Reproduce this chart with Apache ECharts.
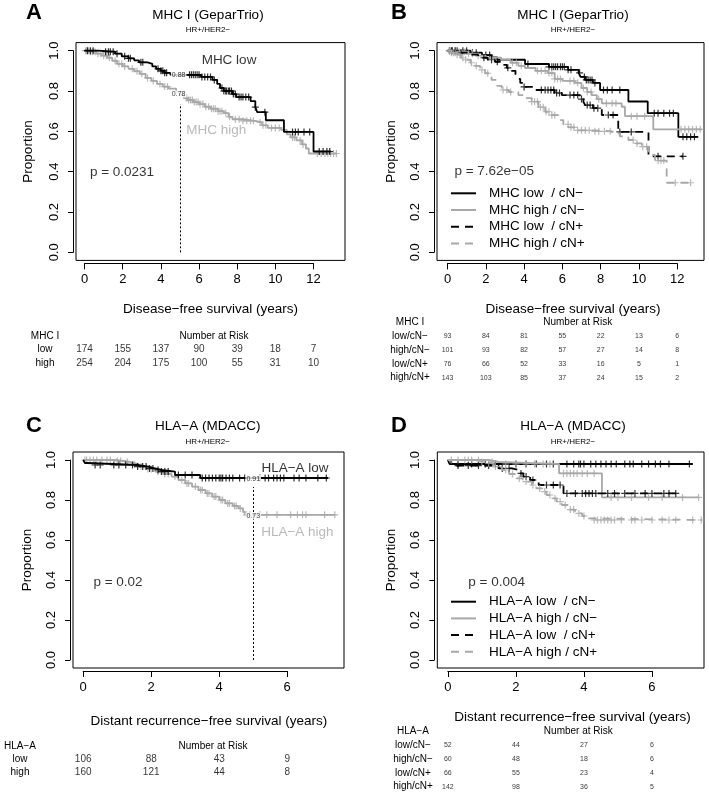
<!DOCTYPE html>
<html>
<head>
<meta charset="utf-8">
<script src="https://cdn.jsdelivr.net/npm/echarts@6/dist/echarts.min.js"></script>
<style>
  html, body { margin: 0; padding: 0; background: #fff; }
  #chart { width: 709px; height: 792px; }
</style>
</head>
<body>
<div id="chart"></div>
<script>
const BLACK = '#000'
const GREY = '#a8a8a8'
const FONT = '"Liberation Sans", Arial, Helvetica, sans-serif'
const PLUS = 'path://M5,0L5,10M0,5L10,5'
const DASH = [8, 6]

// ---------- A: MHC I (GeparTrio), all HR+/HER2- ----------
const aLowSteps = [[0,1],[0.7,0.995],[1.6,0.985],[1.95,0.972],[2.3,0.962],[2.6,0.952],[2.85,0.942],[3.3,0.935],[3.55,0.922],[3.75,0.91],[4.0,0.9],[4.2,0.89],[4.5,0.88],[6.1,0.87],[6.7,0.855],[6.95,0.835],[7.1,0.815],[7.3,0.8],[7.75,0.785],[7.95,0.77],[8.7,0.75],[8.95,0.72],[9.05,0.695],[9.5,0.655],[10.45,0.597],[12.0,0.5],[12.9,0.5]]
const aLowCensor = [0.15,0.3,0.45,1.1,1.25,1.35,1.5,1.7,2.1,2.3,2.4,2.95,3.05,3.85,4.0,4.1,4.2,4.3,5.5,5.6,5.7,5.8,5.9,6.0,6.15,6.3,6.45,6.6,6.8,7.2,7.3,7.4,7.45,7.55,7.6,7.7,7.8,7.9,8.1,8.2,8.3,8.45,8.6,8.95,9.45,10.9,11.05,11.2,11.5,11.8,12.3,12.5,12.7,12.85]
const aHighSteps = [[0,1],[0.3,0.995],[0.6,0.985],[0.9,0.975],[1.2,0.965],[1.45,0.95],[1.7,0.935],[2.0,0.922],[2.3,0.91],[2.6,0.898],[2.9,0.885],[3.2,0.865],[3.5,0.85],[3.8,0.835],[4.1,0.822],[4.4,0.812],[4.8,0.795],[5.0,0.78],[5.2,0.765],[5.4,0.755],[5.7,0.745],[6.0,0.735],[6.3,0.722],[6.6,0.712],[7.0,0.7],[7.3,0.69],[7.55,0.672],[7.75,0.66],[8.3,0.652],[8.9,0.645],[9.3,0.63],[9.6,0.617],[10.3,0.607],[10.6,0.585],[10.8,0.57],[11.1,0.555],[11.4,0.535],[11.6,0.515],[11.75,0.49],[13.2,0.49]]
const aHighCensor = [0.05,0.12,0.2,0.3,0.4,0.55,0.7,0.85,1.0,1.15,1.3,1.6,1.8,1.95,2.1,2.5,2.75,3.0,3.3,3.6,3.95,4.2,4.35,5.35,5.45,5.55,5.65,5.75,5.85,5.95,6.05,6.2,6.35,6.5,6.65,6.75,6.85,7.0,7.1,7.2,7.4,7.6,7.9,8.1,8.3,8.5,8.7,8.85,9.2,9.35,9.5,9.8,10.0,10.2,10.9,11.0,11.3,11.45,12.2,12.4,12.6,12.75,12.9,13.05,13.2]

// ---------- B: MHC I (GeparTrio) by nodal status ----------
const bLowNegSteps = [[0,1],[1.2,0.99],[1.8,0.978],[2.3,0.966],[2.6,0.955],[4.05,0.934],[5.3,0.92],[6.3,0.905],[6.85,0.89],[6.95,0.87],[7.2,0.855],[7.6,0.84],[7.97,0.805],[9.45,0.748],[10.46,0.69],[12.06,0.573],[13.1,0.573]]
const bLowNegCensor = [0.1,0.25,0.5,0.8,1.0,1.3,1.5,2.0,2.2,4.2,5.3,5.45,5.55,5.65,5.75,5.9,6.0,6.1,6.3,6.45,6.9,7.15,7.25,7.35,7.45,7.55,7.7,8.15,8.35,8.6,9.0,10.8,11.0,11.3,11.6,11.8,12.3,12.5,12.7,12.9]
const bHighNegSteps = [[0,1],[0.5,0.995],[1.0,0.985],[1.5,0.975],[2.0,0.965],[2.8,0.954],[3.3,0.94],[3.7,0.925],[4.05,0.914],[4.6,0.9],[5.25,0.889],[5.6,0.86],[6.0,0.85],[6.66,0.84],[7.0,0.815],[7.3,0.795],[7.53,0.78],[7.8,0.76],[8.06,0.739],[9.1,0.722],[9.27,0.675],[10.75,0.61],[13.28,0.61]]
const bHighNegCensor = [0.2,0.4,0.6,0.9,1.1,1.3,1.6,3.4,3.6,3.85,4.7,4.9,5.1,5.3,5.45,5.6,5.75,5.9,6.4,6.6,6.8,7.1,7.3,7.5,7.9,8.3,8.6,8.8,9.6,9.9,10.3,12.2,12.4,12.6,12.8,13.0,13.2]
const bLowPosSteps = [[0,1],[0.6,0.99],[1.1,0.98],[1.6,0.965],[2.1,0.955],[2.48,0.945],[2.9,0.93],[3.1,0.915],[3.35,0.9],[3.55,0.885],[3.65,0.86],[3.8,0.84],[3.95,0.82],[4.6,0.805],[5.6,0.79],[5.97,0.78],[6.9,0.76],[7.1,0.745],[7.2,0.73],[7.6,0.715],[8.06,0.681],[8.92,0.597],[10.5,0.476],[12.3,0.476]]
const bLowPosCensor = [0.2,0.4,0.7,1.9,2.3,2.6,3.15,4.0,4.9,5.1,5.25,5.4,5.55,5.7,5.85,6.4,6.6,6.8,7.0,7.3,7.45,7.65,7.85,8.4,8.65,9.0,9.6,11.0,12.3]
const bHighPosSteps = [[0,1],[0.2,0.99],[0.45,0.98],[0.7,0.965],[0.95,0.955],[1.2,0.94],[1.44,0.925],[1.7,0.905],[1.96,0.888],[2.3,0.855],[2.6,0.825],[2.83,0.805],[3.2,0.795],[3.7,0.78],[4.0,0.765],[4.4,0.747],[4.75,0.72],[5.1,0.697],[5.4,0.68],[5.79,0.656],[6.05,0.635],[6.31,0.62],[6.8,0.605],[7.6,0.6],[8.6,0.59],[9.0,0.575],[9.45,0.557],[9.8,0.54],[10.15,0.524],[10.5,0.5],[10.67,0.483],[10.84,0.455],[11.45,0.345],[12.76,0.345]]
const bHighPosCensor = [0.1,0.2,0.3,0.4,0.5,0.65,0.8,0.95,1.25,1.5,1.8,2.1,2.9,3.1,3.3,4.4,4.55,4.7,4.85,5.0,5.15,5.3,5.45,5.6,6.3,6.45,6.6,6.8,7.0,7.2,7.4,7.7,7.9,8.2,8.5,9.7,9.9,10.2,10.4,11.0,11.15,11.3,11.9,12.7]

// ---------- C: HLA-A (MDACC), all HR+/HER2- ----------
const cLowSteps = [[0,1],[0.05,0.985],[0.12,0.975],[1.6,0.967],[1.92,0.958],[2.1,0.95],[2.3,0.942],[2.7,0.925],[3.44,0.91],[7.2,0.91]]
const cLowCensor = [0.35,0.5,0.9,1.05,1.25,1.45,1.6,1.75,1.85,1.95,2.05,2.2,2.3,2.4,2.5,2.8,3.0,3.2,3.5,3.6,3.7,3.8,3.9,4.0,4.05,4.1,4.2,4.3,4.4,4.6,4.75,5.2,5.35,5.45,5.6,5.7,5.8,5.9,6.2,6.35,6.55,6.9,7.15]
const cHighSteps = [[0,1],[0.95,0.995],[1.2,0.99],[1.4,0.98],[1.63,0.967],[1.85,0.955],[2.12,0.942],[2.35,0.93],[2.6,0.917],[2.8,0.9],[3.0,0.883],[3.2,0.867],[3.39,0.85],[3.6,0.833],[3.79,0.817],[4.0,0.8],[4.18,0.783],[4.4,0.77],[4.57,0.758],[4.7,0.74],[4.76,0.726],[7.41,0.726]]
const cHighCensor = [0.05,0.1,0.2,0.3,0.4,0.55,0.7,0.8,1.0,1.1,1.3,1.5,1.7,1.9,2.0,2.2,2.4,2.5,2.7,2.9,3.05,3.1,3.3,3.45,3.5,3.65,3.7,3.85,3.9,4.05,4.1,4.25,4.3,4.45,4.5,4.62,4.8,4.9,5.2,5.4,5.7,6.1,6.3,6.45,6.55,7.1,7.4]

// ---------- D: HLA-A (MDACC) by nodal status ----------
const dLowNegSteps = [[0,1],[0.05,0.98],[7.2,0.98]]
const dLowNegCensor = [0.3,0.7,1.1,1.4,2.0,2.3,2.6,2.9,3.1,3.5,3.7,3.85,3.9,4.0,4.2,4.35,4.5,4.65,4.8,4.95,5.2,5.35,5.45,5.7,5.9,6.1,6.25,6.5,7.1]
const dHighNegSteps = [[0,1],[1.2,0.99],[1.5,0.98],[3.27,0.933],[4.53,0.813],[7.37,0.813]]
const dHighNegCensor = [0.6,0.9,1.3,1.7,2.0,2.3,2.55,2.8,3.0,3.4,3.5,3.6,3.7,3.8,3.95,4.1,4.3,4.8,5.0,5.4,5.9,6.3,6.9,7.37]
const dLowPosSteps = [[0,1],[0.1,0.972],[1.49,0.958],[1.88,0.95],[2.08,0.933],[2.22,0.917],[2.42,0.9],[2.67,0.875],[3.4,0.833],[6.78,0.833]]
const dLowPosCensor = [0.3,0.6,0.9,1.2,1.6,1.8,2.15,2.3,2.5,2.9,3.1,3.3,3.5,3.75,3.95,4.05,4.15,4.25,4.35,4.7,4.9,5.2,5.5,5.8,6.0,6.35,6.5,6.7]
const dHighPosSteps = [[0,1],[0.8,0.99],[1.1,0.983],[1.35,0.967],[1.59,0.95],[1.8,0.93],[1.98,0.908],[2.2,0.892],[2.47,0.875],[2.6,0.858],[2.76,0.842],[2.9,0.825],[3.06,0.808],[3.2,0.792],[3.35,0.775],[3.55,0.752],[3.74,0.733],[3.95,0.72],[4.14,0.708],[4.2,0.7],[7.47,0.7]]
const dHighPosCensor = [0.1,0.3,0.5,0.7,1.0,1.2,1.4,1.7,1.9,2.1,2.3,2.5,2.7,2.85,3.0,3.15,3.3,3.45,3.6,3.7,3.85,4.0,4.3,4.4,4.5,4.6,4.7,4.8,4.9,5.1,5.4,5.5,5.7,6.0,6.3,6.5,6.7,7.2,7.45]

// ---------- numbers at risk ----------
const riskTimesGepar = [0, 2, 4, 6, 8, 10, 12]
const riskTimesMdacc = [0, 2, 4, 6]
const aRiskRows = ['low', 'high']
const aRisk = [[174,155,137,90,39,18,7], [254,204,175,100,55,31,10]]
const bRiskRows = ['low/cN−', 'high/cN−', 'low/cN+', 'high/cN+']
const bRisk = [[93,84,81,55,22,13,6], [101,93,82,57,27,14,8], [76,66,52,33,16,5,1], [143,103,85,37,24,15,2]]
const cRiskRows = ['low', 'high']
const cRisk = [[106,88,43,9], [160,121,44,8]]
const dRiskRows = ['low/cN−', 'high/cN−', 'low/cN+', 'high/cN+']
const dRisk = [[52,44,27,6], [60,48,18,6], [66,55,23,4], [142,98,36,5]]

const survAt = (steps, t) => {
  let s = steps[0][1]
  for (const [x, y] of steps) {
    if (x <= t) s = y
    else break
  }
  return s
}

const panels = [
  {
    letter: 'A', letterPos: [34, 13], title: 'MHC I (GeparTrio)', titleX: 208, titleY: 15.3, subY: 30,
    box: { left: 76, top: 42.6, width: 269, height: 217.8 }, xMin: -0.45, xMax: 13.65, tickMax: 12,
    xTitle: 'Disease−free survival (years)', xTitlePos: [210.5, 309], yTitlePos: [28.3, 151.5],
    curves: [
      { name: 'MHC high', steps: aHighSteps, censor: aHighCensor, color: GREY, dashed: false },
      { name: 'MHC low', steps: aLowSteps, censor: aLowCensor, color: BLACK, dashed: false }
    ],
    vline: [[5, 0], [5, 0.735]],
    notes: [
      { at: [7.57, 0.954], text: 'MHC low', color: BLACK },
      { at: [6.9, 0.606], text: 'MHC high', color: GREY },
      { at: [0.28, 0.395], text: 'p = 0.0231', color: BLACK, align: 'left' },
      { at: [4.93, 0.879], text: '0.88', color: BLACK, small: true },
      { at: [4.93, 0.785], text: '0.78', color: BLACK, small: true }
    ],
    table: { header: 'MHC I', rows: aRiskRows, values: aRisk, times: riskTimesGepar, top: 329.25, rowH: 13.5, labelX: 45, numSize: 10, narPos: [214, 336] }
  },
  {
    letter: 'B', letterPos: [399, 13], title: 'MHC I (GeparTrio)', titleX: 573, titleY: 15.3, subY: 30,
    box: { left: 437, top: 42.6, width: 267, height: 217.8 }, xMin: -0.55, xMax: 13.4, tickMax: 12,
    xTitle: 'Disease−free survival (years)', xTitlePos: [573, 309], yTitlePos: [391.7, 151.5],
    curves: [
      { name: 'MHC low  / cN−', steps: bLowNegSteps, censor: bLowNegCensor, color: BLACK, dashed: false },
      { name: 'MHC high / cN−', steps: bHighNegSteps, censor: bHighNegCensor, color: GREY, dashed: false },
      { name: 'MHC low  / cN+', steps: bLowPosSteps, censor: bLowPosCensor, color: BLACK, dashed: true },
      { name: 'MHC high / cN+', steps: bHighPosSteps, censor: bHighPosCensor, color: GREY, dashed: true }
    ],
    legendTop: 186.3,
    notes: [
      { at: [0.36, 0.40], text: 'p = 7.62e−05', color: BLACK, align: 'left' }
    ],
    table: { header: 'MHC I', rows: bRiskRows, values: bRisk, times: riskTimesGepar, top: 315.8, rowH: 13.75, labelX: 410, numSize: 7, narPos: [577.7, 322.7] }
  },
  {
    letter: 'C', letterPos: [34, 426], title: 'HLA−A (MDACC)', titleX: 207.7, titleY: 426, subY: 442,
    box: { left: 73, top: 452, width: 271, height: 216 }, xMin: -0.3, xMax: 7.67, tickMax: 6,
    xTitle: 'Distant recurrence−free survival (years)', xTitlePos: [208.8, 721.7], yTitlePos: [27.5, 560],
    curves: [
      { name: 'HLA−A high', steps: cHighSteps, censor: cHighCensor, color: GREY, dashed: false },
      { name: 'HLA−A low', steps: cLowSteps, censor: cLowCensor, color: BLACK, dashed: false }
    ],
    vline: [[5, 0], [5, 0.865]],
    notes: [
      { at: [6.23, 0.96], text: 'HLA−A low', color: BLACK },
      { at: [6.3, 0.64], text: 'HLA−A high', color: GREY },
      { at: [0.3, 0.39], text: 'p = 0.02', color: BLACK, align: 'left' },
      { at: [5.0, 0.907], text: '0.91', color: BLACK, small: true },
      { at: [5.0, 0.72], text: '0.73', color: BLACK, small: true }
    ],
    table: { header: 'HLA−A', rows: cRiskRows, values: cRisk, times: riskTimesMdacc, top: 739.5, rowH: 13, labelX: 20, numSize: 10, narPos: [213, 746] }
  },
  {
    letter: 'D', letterPos: [399, 426], title: 'HLA−A (MDACC)', titleX: 573, titleY: 426, subY: 442,
    box: { left: 437.3, top: 452, width: 266.7, height: 216 }, xMin: -0.31, xMax: 7.53, tickMax: 6,
    xTitle: 'Distant recurrence−free survival (years)', xTitlePos: [572.5, 717], yTitlePos: [391, 560],
    curves: [
      { name: 'HLA−A low  / cN−', steps: dLowNegSteps, censor: dLowNegCensor, color: BLACK, dashed: false },
      { name: 'HLA−A high / cN−', steps: dHighNegSteps, censor: dHighNegCensor, color: GREY, dashed: false },
      { name: 'HLA−A low  / cN+', steps: dLowPosSteps, censor: dLowPosCensor, color: BLACK, dashed: true },
      { name: 'HLA−A high / cN+', steps: dHighPosSteps, censor: dHighPosCensor, color: GREY, dashed: true }
    ],
    legendTop: 594.7,
    notes: [
      { at: [0.6, 0.39], text: 'p = 0.004', color: BLACK, align: 'left' }
    ],
    table: { header: 'HLA−A', rows: dRiskRows, values: dRisk, times: riskTimesMdacc, top: 724.8, rowH: 13.75, labelX: 413, numSize: 7, narPos: [578.3, 731.7] }
  }
]

const grid = []
const xAxis = []
const yAxis = []
const series = []
const legend = []
const graphics = []

const text = (x, y, str, size, extra = {}) => ({
  type: 'text', x, y, silent: true,
  rotation: extra.rotation || 0,
  style: {
    text: str, fill: extra.fill || BLACK, fontSize: size, fontFamily: FONT,
    fontWeight: extra.bold ? 'bold' : 'normal', align: 'center', verticalAlign: 'middle'
  }
})

panels.forEach((p, k) => {
  const g = k * 4
  const b = p.box
  const span = p.xMax - p.xMin
  const pxPerYear = b.width / span
  const yTop = b.top + b.height * (0.04 / 1.08)

  // main plotting box
  grid.push({ left: b.left, top: b.top, width: b.width, height: b.height, show: true, borderColor: BLACK, borderWidth: 1, backgroundColor: 'transparent', outerBoundsMode: 'none' })
  xAxis.push({ gridIndex: g, type: 'value', min: p.xMin, max: p.xMax, show: false })
  yAxis.push({ gridIndex: g, type: 'value', min: -0.04, max: 1.04, show: false })

  // R-style y axis, detached from the box
  grid.push({ left: b.left - 3, top: yTop, width: 1, height: b.height / 1.08, outerBoundsMode: 'none' })
  xAxis.push({ gridIndex: g + 1, type: 'value', show: false })
  yAxis.push({
    gridIndex: g + 1, type: 'value', min: 0, max: 1, interval: 0.2, position: 'left',
    axisLine: { show: true, lineStyle: { color: BLACK, width: 1 } },
    axisTick: { show: true, length: 5, lineStyle: { color: BLACK, width: 1 } },
    splitLine: { show: false },
    axisLabel: { rotate: 90, margin: 12, fontSize: 13, color: BLACK, fontFamily: FONT, formatter: (v) => v.toFixed(1) }
  })

  // R-style x axis
  grid.push({ left: b.left + (0 - p.xMin) * pxPerYear, top: b.top + b.height + 2, width: p.tickMax * pxPerYear, height: 1, outerBoundsMode: 'none' })
  xAxis.push({
    gridIndex: g + 2, type: 'value', min: 0, max: p.tickMax, interval: 2, position: 'bottom',
    axisLine: { show: true, onZero: false, lineStyle: { color: BLACK, width: 1 } },
    axisTick: { show: true, length: 6, lineStyle: { color: BLACK, width: 1 } },
    splitLine: { show: false },
    axisLabel: { margin: 10, fontSize: 13, color: BLACK, fontFamily: FONT }
  })
  yAxis.push({ gridIndex: g + 2, type: 'value', show: false })

  // numbers-at-risk table
  const t = p.table
  const cats = [t.header, ...t.rows]
  grid.push({ left: b.left, top: t.top, width: b.width, height: t.rowH * cats.length, outerBoundsMode: 'none' })
  xAxis.push({ gridIndex: g + 3, type: 'value', min: p.xMin, max: p.xMax, show: false })
  yAxis.push({
    gridIndex: g + 3, type: 'category', data: cats, inverse: true,
    axisLine: { show: false }, axisTick: { show: false }, splitLine: { show: false },
    axisLabel: { interval: 0, margin: b.left - t.labelX, align: 'center', fontSize: 10, color: BLACK, fontFamily: FONT }
  })
  const cells = []
  t.rows.forEach((row, r) => {
    t.times.forEach((tm, i) => cells.push([tm, row, t.values[r][i]]))
  })
  series.push({
    type: 'scatter', xAxisIndex: g + 3, yAxisIndex: g + 3, data: cells, symbolSize: 0, silent: true,
    label: { show: true, position: 'inside', formatter: (d) => String(d.value[2]), fontSize: t.numSize, color: BLACK, fontFamily: FONT }
  })

  // survival curves and censor marks
  p.curves.forEach((c, ci) => {
    const line = {
      type: 'line', name: c.name, xAxisIndex: g, yAxisIndex: g, data: c.steps, step: 'end',
      symbol: 'none', silent: true, z: 2 + ci,
      itemStyle: { color: c.color },
      lineStyle: { color: c.color, width: 1.8, type: c.dashed ? DASH : 'solid' }
    }
    if (ci === 0 && p.vline) {
      line.markLine = {
        silent: true, symbol: 'none', label: { show: false },
        lineStyle: { color: BLACK, width: 1, type: [2, 2] },
        data: [[{ coord: p.vline[0] }, { coord: p.vline[1] }]]
      }
    }
    series.push(line)
    series.push({
      type: 'scatter', xAxisIndex: g, yAxisIndex: g, silent: true, z: 2 + ci,
      data: c.censor.map((tm) => [tm, survAt(c.steps, tm)]),
      symbol: PLUS, symbolSize: 7,
      itemStyle: { color: 'transparent', borderColor: c.color, borderWidth: 1.2 }
    })
  })

  // text inside the plot
  series.push({
    type: 'scatter', xAxisIndex: g, yAxisIndex: g, silent: true, z: 10, symbolSize: 0,
    data: p.notes.map((n) => ({
      value: n.at,
      label: {
        show: true, position: 'inside', formatter: n.text, color: n.color,
        fontSize: n.small ? 7 : 13.5, fontFamily: FONT, align: n.align || 'center',
        backgroundColor: n.small ? '#fff' : 'transparent', padding: n.small ? [0, 1] : 0
      }
    }))
  })

  if (p.legendTop) {
    legend.push({
      data: p.curves.map((c) => c.name), orient: 'vertical', left: 450, top: p.legendTop, padding: 0,
      itemWidth: 25, itemHeight: 14, itemGap: 2.7, selectedMode: false,
      itemStyle: { opacity: 0 },
      textStyle: { fontSize: 13.5, color: BLACK, fontFamily: FONT, padding: [0, 0, 0, 8] }
    })
  }

  graphics.push(text(p.letterPos[0], p.letterPos[1], p.letter, 22, { bold: true }))
  graphics.push(text(p.titleX, p.titleY, p.title, 13.5))
  graphics.push(text(p.titleX, p.subY, 'HR+/HER2−', 8))
  graphics.push(text(p.xTitlePos[0], p.xTitlePos[1], p.xTitle, 13.5))
  graphics.push(text(p.yTitlePos[0], p.yTitlePos[1], 'Proportion', 13.5, { rotation: Math.PI / 2 }))
  graphics.push(text(t.narPos[0], t.narPos[1], 'Number at Risk', 10))
})

const chart = echarts.init(document.getElementById('chart'), null, { renderer: 'canvas' })
chart.setOption({
  animation: false,
  backgroundColor: '#fff',
  textStyle: { fontFamily: FONT },
  grid, xAxis, yAxis, series, legend,
  graphic: { elements: graphics }
})
</script>
</body>
</html>
